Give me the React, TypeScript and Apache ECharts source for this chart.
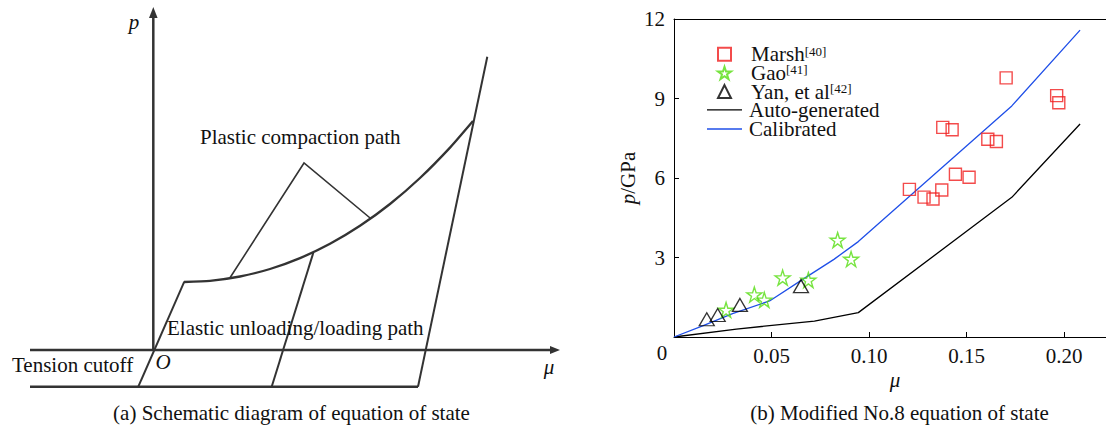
import React, { useEffect, useRef } from "react";
import * as echarts from "echarts";

// ---------- data (panel b) ----------
const marshMu = [0.1703, 0.1962, 0.1973, 0.1378, 0.1426, 0.1609, 0.1653, 0.1443, 0.1513, 0.1207, 0.1373, 0.1282, 0.1328];
const marshP = [9.78, 9.11, 8.84, 7.91, 7.82, 7.46, 7.38, 6.14, 6.03, 5.57, 5.55, 5.28, 5.21];
const gaoMu = [0.0839, 0.0908, 0.0557, 0.0689, 0.0412, 0.0463, 0.0267];
const gaoP = [3.66, 2.94, 2.24, 2.15, 1.6, 1.4, 1.02];
const yanMu = [0.0651, 0.0338, 0.0224, 0.0168];
const yanP = [1.92, 1.21, 0.83, 0.67];
const autoMu = [0, 0.032, 0.072, 0.0945, 0.1732, 0.2082];
const autoP = [0, 0.3, 0.6, 0.92, 5.27, 8.04];
const calMu = [0, 0.015, 0.03, 0.049, 0.067, 0.082, 0.0945, 0.1732, 0.2082];
const calP = [0, 0.43, 0.88, 1.36, 2.22, 2.93, 3.6, 8.72, 11.58];
const legendSup: Record<string, string> = { Marsh: "[40]", Gao: "[41]", "Yan, et al": "[42]" };

// ---------- schematic geometry (panel a) ----------
const compactionCurve = [
  [184, 282], [210, 280.8], [240, 276.5], [270, 269], [300, 258.1], [330, 243.8],
  [360, 225.8], [390, 204], [420, 178], [450, 147.6], [473, 121],
];
const elasticLines = [
  [[138.3, 386.7], [184.3, 281.7]],
  [[271.7, 386.7], [313.3, 252.8]],
  [[418, 386.7], [487.3, 56.7]],
];
const leader = [[230, 277.8], [304, 163], [370.7, 218.5]];

const SERIF = '"Liberation Serif", "Times New Roman", serif';
const FS = 21;
const pair = (a: number[], b: number[]) => a.map((v, i) => [v, b[i]]);

function starPath() {
  const pts: string[] = [];
  for (let i = 0; i < 10; i++) {
    const r = i % 2 ? 0.382 : 1;
    const a = -Math.PI / 2 + (i * Math.PI) / 5;
    pts.push(`${(r * Math.cos(a)).toFixed(4)} ${(r * Math.sin(a)).toFixed(4)}`);
  }
  return "path://M" + pts.join(" L") + " Z";
}

export default function App() {
  const ref = useRef<HTMLDivElement>(null);
  useEffect(() => {
    document.body.style.margin = "0";
    const chart = echarts.init(ref.current!, null, { renderer: "svg" });
    const ink = "#333";
    const line = (a: number[], b: number[], w = 2) => ({
      type: "line",
      shape: { x1: a[0], y1: a[1], x2: b[0], y2: b[1] },
      style: { stroke: ink, lineWidth: w },
      silent: true,
    });
    const txt = (text: string, x: number, y: number, align = "left", italic = false) => ({
      type: "text",
      x,
      y,
      silent: true,
      style: {
        text,
        fill: "#111",
        fontSize: FS,
        fontFamily: SERIF,
        fontStyle: italic ? "italic" : "normal",
        align,
        verticalAlign: "middle",
      },
    });
    const richLegend = {
      s: { fontSize: 13, fontFamily: SERIF, color: "#111", verticalAlign: "top", lineHeight: 19 },
    };
    const legendText = {
      fontSize: FS,
      fontFamily: SERIF,
      color: "#111",
      lineHeight: 19,
      rich: richLegend,
    };
    const fmt = (name: string) => (legendSup[name] ? `${name}{s|${legendSup[name]}}` : name);
    const lineIcon = "path://M0 0 L35 0 L35 1.3 L0 1.3 Z";

    chart.setOption({
      animation: false,
      grid: { left: 674, top: 19, width: 432, height: 318, containLabel: false },
      xAxis: [
        {
          type: "value",
          min: 0,
          max: 0.2215,
          interval: 0.05,
          axisLine: { show: true, lineStyle: { color: "#000", width: 1 } },
          axisTick: { show: true, inside: true, length: 5, lineStyle: { color: "#000" } },
          splitLine: { show: false },
          axisLabel: {
            showMinLabel: false,
            showMaxLabel: false,
            margin: 8,
            color: "#111",
            fontSize: FS,
            fontFamily: SERIF,
            formatter: (v: number) => v.toFixed(2),
          },
        },
        {
          type: "value",
          position: "top",
          min: 0,
          max: 0.2215,
          axisLine: { show: true, onZero: false, lineStyle: { color: "#000", width: 1 } },
          axisTick: { show: false },
          axisLabel: { show: false },
          splitLine: { show: false },
        },
      ],
      yAxis: {
        type: "value",
        min: 0,
        max: 12,
        interval: 3,
        axisLine: { show: true, lineStyle: { color: "#000", width: 1 } },
        axisTick: { show: true, inside: true, length: 5, lineStyle: { color: "#000" } },
        splitLine: { show: false },
        axisLabel: { showMinLabel: false, margin: 9, color: "#111", fontSize: FS, fontFamily: SERIF },
      },
      legend: [
        {
          orient: "vertical",
          left: 717,
          top: 43.7,
          padding: 0,
          itemWidth: 13,
          itemHeight: 13,
          itemGap: -2.3,
          data: ["Marsh", "Gao", "Yan, et al"],
          formatter: fmt,
          textStyle: { ...legendText, padding: [0, 0, 0, 15] },
        },
        {
          orient: "vertical",
          left: 707,
          top: 99.3,
          padding: 0,
          itemWidth: 35,
          itemHeight: 14,
          itemGap: -1.8,
          symbolKeepAspect: true,
          data: [
            { name: "Auto-generated", icon: lineIcon },
            { name: "Calibrated", icon: lineIcon },
          ],
          textStyle: { ...legendText, padding: [0, 0, 0, 2] },
        },
      ],
      series: [
        {
          name: "Auto-generated",
          type: "line",
          symbol: "none",
          data: pair(autoMu, autoP),
          lineStyle: { color: "#000", width: 1.3 },
          itemStyle: { color: "#000" },
          z: 1,
        },
        {
          name: "Calibrated",
          type: "line",
          symbol: "none",
          data: pair(calMu, calP),
          lineStyle: { color: "#1f4fe8", width: 1.3 },
          itemStyle: { color: "#1f4fe8" },
          z: 1,
        },
        {
          name: "Marsh",
          type: "scatter",
          symbol: "rect",
          symbolSize: 12,
          data: pair(marshMu, marshP),
          itemStyle: { color: "rgba(255,255,255,0)", borderColor: "#f01e1e", borderWidth: 1.4 },
          z: 3,
        },
        {
          name: "Gao",
          type: "scatter",
          symbol: starPath(),
          symbolSize: 15,
          data: pair(gaoMu, gaoP),
          itemStyle: { color: "rgba(255,255,255,0)", borderColor: "#55dd10", borderWidth: 1.4 },
          z: 3,
        },
        {
          name: "Yan, et al",
          type: "scatter",
          symbol: "triangle",
          symbolSize: [15, 13],
          data: pair(yanMu, yanP),
          itemStyle: { color: "rgba(255,255,255,0)", borderColor: "#000", borderWidth: 1.3 },
          z: 3,
        },
      ],
      graphic: [
        // panel b extras
        txt("0", 662, 353, "center"),
        txt("\u03bc", 895, 380, "center", true),
        {
          type: "text",
          x: 628,
          y: 178,
          rotation: Math.PI / 2,
          silent: true,
          style: {
            text: "{i|p}/GPa",
            fill: "#111",
            fontSize: FS,
            fontFamily: SERIF,
            align: "center",
            verticalAlign: "middle",
            rich: { i: { fontStyle: "italic", fontSize: FS, fontFamily: SERIF, fill: "#111" } },
          },
        },
        txt("(b) Modified No.8 equation of state", 899.5, 413, "center"),
        // panel a schematic
        line([153.3, 350], [153.3, 15], 2.5),
        { type: "polygon", shape: { points: [[153.3, 7], [149, 18], [157.6, 18]] }, style: { fill: ink }, silent: true },
        line([30, 350], [552, 350], 2.5),
        { type: "polygon", shape: { points: [[560, 350], [550, 346], [550, 354]] }, style: { fill: ink }, silent: true },
        line([30, 386.7], [418, 386.7], 2.5),
        ...elasticLines.map((l) => line(l[0], l[1], 2)),
        {
          type: "polyline",
          shape: { points: compactionCurve, smooth: 0.2 },
          style: { stroke: ink, lineWidth: 2.3, fill: null },
          silent: true,
        },
        { type: "polyline", shape: { points: leader }, style: { stroke: ink, lineWidth: 1.6, fill: null }, silent: true },
        txt("p", 134, 22, "center", true),
        txt("\u03bc", 549, 367, "center", true),
        txt("O", 163, 362, "center", true),
        txt("Tension cutoff", 12, 365, "left"),
        txt("Plastic compaction path", 200, 137, "left"),
        txt("Elastic unloading/loading path", 167, 328, "left"),
        txt("(a) Schematic diagram of equation of state", 291.5, 413, "center"),
      ],
    });
    return () => chart.dispose();
  }, []);
  return <div ref={ref} style={{ width: 1106, height: 425 }} />;
}
